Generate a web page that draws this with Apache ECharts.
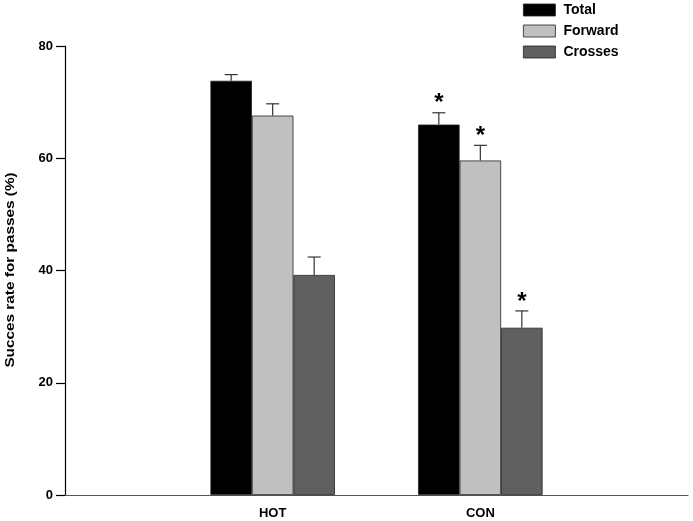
<!DOCTYPE html>
<html>
<head>
<meta charset="utf-8">
<script src="https://cdn.jsdelivr.net/npm/echarts@6/dist/echarts.min.js"></script>
<style>html,body{margin:0;padding:0;background:#fff}#c{width:693px;height:521px}</style>
</head>
<body>
<div id="c"></div>
<script>
var categories = ['', 'HOT', 'CON', ''];
var seriesNames = ['Total', 'Forward', 'Crosses'];
var totalVals = [null, 73.8, 66.0, null];
var forwardVals = [null, 67.6, 59.6, null];
var crossesVals = [null, 39.2, 29.8, null];
var totalErr = [null, 1.1, 2.1, null];
var forwardErr = [null, 2.1, 2.7, null];
var crossesErr = [null, 3.2, 3.0, null];
var totalSig = [false, false, true, false];
var forwardSig = [false, false, true, false];
var crossesSig = [false, false, true, false];
var yTicks = [0, 20, 40, 60, 80];
var yTitle = 'Succes rate for passes (%)';

var colors = ['#000000', '#c0c0c0', '#606060'];
var values = [totalVals, forwardVals, crossesVals];
var errs = [totalErr, forwardErr, crossesErr];
var sigs = [totalSig, forwardSig, crossesSig];
var BW = 41.5;
var font = '"Liberation Sans", Arial, sans-serif';

var chart = echarts.init(document.getElementById('c'));
var series = [];
seriesNames.forEach(function (name, s) {
  series.push({
    name: name, type: 'bar', barWidth: BW, barGap: 0,
    data: values[s],
    itemStyle: { color: colors[s], borderColor: '#222', borderWidth: 0.8 },
    z: 2
  });
});
seriesNames.forEach(function (name, s) {
  var d = [];
  values[s].forEach(function (v, i) { if (v != null) d.push([i, v, errs[s][i], sigs[s][i] ? 1 : 0]); });
  series.push({
    type: 'custom', name: name + '_err', data: d, z: 3, silent: true,
    renderItem: function (params, api) {
      var off = (s - 1) * BW;
      var p0 = api.coord([api.value(0), api.value(1)]);
      var p1 = api.coord([api.value(0), api.value(1) + api.value(2)]);
      var x = p0[0] + off;
      var ch = [
        { type: 'line', shape: { x1: x, y1: p0[1], x2: x, y2: p1[1] }, style: { stroke: '#333', lineWidth: 1.2 } },
        { type: 'line', shape: { x1: x - 6.5, y1: p1[1], x2: x + 6.5, y2: p1[1] }, style: { stroke: '#333', lineWidth: 1.2 } }
      ];
      if (api.value(3)) {
        ch.push({ type: 'text', style: { text: '*', x: x, y: p1[1] + 3, align: 'center', verticalAlign: 'bottom', font: 'bold 24px ' + font, fill: '#000' } });
      }
      return { type: 'group', children: ch };
    }
  });
});

chart.setOption({
  animation: false,
  backgroundColor: '#fff',
  grid: { left: 65, right: 5, top: 46, bottom: 26, containLabel: false, outerBoundsMode: 'none' },
  legend: {
    data: seriesNames, orient: 'vertical', left: 523, top: 3, padding: 0,
    icon: 'rect', itemWidth: 32, itemHeight: 12, itemGap: 7,
    textStyle: { fontFamily: font, fontWeight: 'bold', fontSize: 14, lineHeight: 12, color: '#000', padding: [0, 0, 0, 3] },
    itemStyle: { borderColor: '#222', borderWidth: 0.8 }
  },
  graphic: [{
    type: 'text', x: 10, y: 270, rotation: Math.PI / 2, scaleX: 1.18,
    style: { text: yTitle, font: 'bold 13px ' + font, fill: '#000', align: 'center', verticalAlign: 'middle' }
  }],
  xAxis: {
    type: 'category', data: categories, boundaryGap: false,
    axisLine: { lineStyle: { color: '#555', width: 1.2 } },
    axisTick: { show: false },
    axisLabel: { fontFamily: font, fontWeight: 'bold', fontSize: 13, color: '#000', margin: 12 }
  },
  yAxis: {
    type: 'value', min: yTicks[0], max: yTicks[yTicks.length - 1], interval: 20,
    axisLine: { show: true, lineStyle: { color: '#000', width: 1.2 } },
    axisTick: { show: true, length: 9, lineStyle: { color: '#000', width: 1.2 } },
    axisLabel: { fontFamily: font, fontWeight: 'bold', fontSize: 13, color: '#000', margin: 12 },
    splitLine: { show: false }
  },
  series: series
});
</script>
</body>
</html>
